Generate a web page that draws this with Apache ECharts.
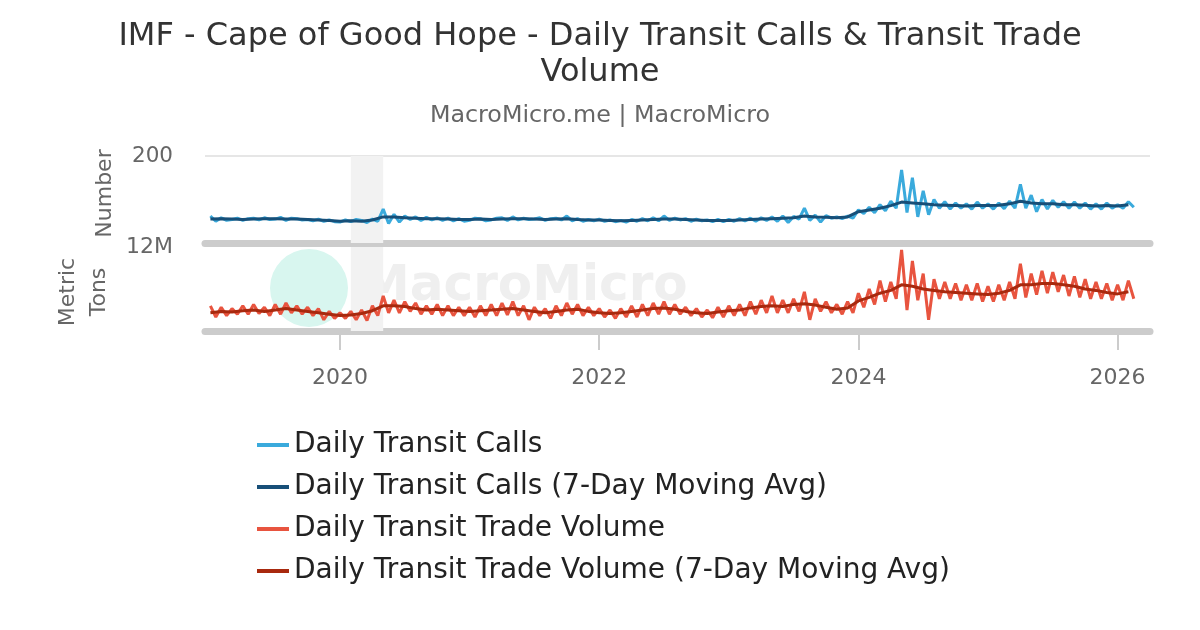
<!DOCTYPE html>
<html><head><meta charset="utf-8">
<script src="https://cdn.jsdelivr.net/npm/echarts@6/dist/echarts.min.js"></script>
<style>html,body{margin:0;padding:0;background:#fff}#c{width:1200px;height:630px}</style>
</head><body><div id="c"></div>
<script>
// Semi-monthly readings (1st & 16th of each month), Jan 2019 - Feb 2026
const callsRaw = [
62,50,58,52,54,57,52,56,57,53,58,54,55,59,52,57,56,53,54,51,55,50,53,49,
48,53,49,54,52,47,55,50,78,45,66,48,62,54,60,52,59,53,58,52,57,51,56,50,
52,57,56,51,53,57,58,52,60,53,57,54,55,58,52,56,57,53,62,51,56,50,54,51,
55,50,53,49,52,48,54,50,56,51,58,51,62,52,57,53,56,50,55,51,53,49,54,49,
54,50,56,51,57,50,58,52,60,50,62,47,61,55,80,52,64,48,63,57,60,56,62,57,
76,68,82,70,88,74,96,80,168,70,150,60,120,65,100,80,95,78,92,80,90,78,94,80,
90,78,92,79,96,80,135,80,110,72,100,78,98,82,95,80,94,80,92,78,90,78,92,80,
88,80,95,82];
const volRaw = [
3.6,2.0,3.4,2.2,3.2,2.4,3.6,2.4,3.8,2.5,3.4,2.2,3.8,2.4,4.0,2.6,3.6,2.4,3.4,2.2,3.2,1.6,2.8,1.8,
2.6,1.8,2.8,1.6,3.0,1.5,3.6,2.2,5.0,2.6,4.4,2.6,4.2,2.8,4.0,2.4,3.6,2.4,3.8,2.2,3.6,2.2,3.4,2.2,
3.4,2.0,3.6,2.2,3.8,2.2,4.0,2.3,4.2,2.2,3.6,1.6,3.4,2.2,3.2,1.8,3.6,2.2,4.0,2.4,3.8,2.2,3.4,2.2,
3.2,2.0,3.0,1.8,3.2,2.0,3.6,2.0,3.8,2.2,4.0,2.4,4.2,2.4,3.8,2.4,3.4,2.2,3.2,2.0,3.0,1.9,3.4,2.0,
3.6,2.2,3.8,2.2,4.2,2.4,4.4,2.6,5.0,2.6,4.4,2.6,4.6,2.8,5.6,1.6,4.6,2.8,4.2,2.6,3.8,2.4,4.2,2.6,
5.4,3.4,6.0,3.8,7.2,4.2,7.0,4.6,11.6,3.0,10.0,4.4,8.2,1.6,7.4,4.6,7.0,4.6,6.8,4.4,6.6,4.4,6.8,4.2,
6.4,4.2,6.6,4.4,7.0,4.6,9.6,4.8,8.2,5.2,8.6,5.4,8.4,5.6,8.0,5.0,7.8,4.8,7.4,4.6,7.0,4.6,6.8,4.4,
6.6,4.4,7.2,4.6];
// Monthly readings of the 7-day moving averages
const callsMA = [
55,56,55,54,55,56,56,55,55,54,53,52,
50,51,50,53,60,60,58,57,56,56,55,54,
54,55,54,55,56,56,55,54,55,56,54,53,
53,52,51,52,53,54,55,55,54,53,52,52,
52,53,54,55,56,57,58,62,60,59,58,60,
72,76,80,86,94,92,90,88,87,86,85,86,
86,87,90,96,92,90,90,88,88,87,85,86,
85,88];
const volMA = [
2.6,2.8,2.7,2.9,3.0,2.8,3.0,3.2,3.0,2.8,2.6,2.4,
2.2,2.3,2.5,2.9,3.6,3.6,3.5,3.2,3.0,3.1,3.0,2.9,
2.8,2.9,3.0,3.1,3.2,3.0,2.8,2.6,2.8,3.0,3.1,2.8,
2.6,2.5,2.6,2.8,3.0,3.2,3.3,3.1,2.8,2.6,2.5,2.7,
2.9,3.0,3.3,3.5,3.6,3.5,3.8,3.9,3.7,3.4,3.1,3.3,
4.3,4.8,5.4,5.8,6.6,6.4,6.0,5.8,5.6,5.5,5.4,5.3,
5.2,5.4,5.8,6.6,6.6,6.8,6.8,6.6,6.4,6.0,5.8,5.5,
5.3,5.6];
const shade = ['2020-02-01','2020-05-01'];
const xTickLabels = ['2020','2022','2024','2026'];
const yTicksTop = ['200'];
const yTicksBottom = ['12M'];

function pad(n){return n<10?'0'+n:''+n;}
const halfDates=[];
for(let y=2019;y<=2026;y++){for(let m=1;m<=12;m++){
  if(y===2026&&m>2)break;
  halfDates.push(y+'-'+pad(m)+'-01', y+'-'+pad(m)+'-16');
}}
const lead=['2018-12-16'], tail=['2026-03-01','2026-03-16','2026-04-01'];
const cats = lead.concat(halfDates, tail);
const padSeries = v => [null].concat(v, [null,null,null]);
const maSeries = v => [null].concat(...v.map(x=>[x,null]), [null,null,null]);
const tickSet = new Set(xTickLabels.map(y=>y+'-01-01'));

const chart = echarts.init(document.getElementById('c'));
const font = 'DejaVu Sans';
const xCommon = {type:'category', data:cats, boundaryGap:false, splitLine:{show:false}};
const ma = {silent:true, itemStyle:{color:'#f2f2f2'}, data:[[{xAxis:shade[0]},{xAxis:shade[1]}]]};
chart.setOption({
  textStyle:{fontFamily:font},
  title:[{text:'IMF - Cape of Good Hope - Daily Transit Calls & Transit Trade\nVolume', left:'center', top:14,
    textStyle:{fontSize:32, fontWeight:'normal', color:'#333', lineHeight:36, fontFamily:font},
    subtext:'MacroMicro.me | MacroMicro', subtextStyle:{fontSize:23.8, color:'#666', fontFamily:font}, itemGap:13}],
  graphic:[
    {type:'circle', shape:{cx:309, cy:288, r:39}, style:{fill:'#d8f6ef'}, z:0, silent:true},
    {type:'text', left:360, top:262, style:{text:'MacroMicro', fontSize:50, fontWeight:'bold', fill:'#efefef', fontFamily:font}, z:0, silent:true}
  ],
  grid:[{left:205,right:50,top:156,height:87},{left:205,right:50,top:247,height:84}],
  xAxis:[
    Object.assign({gridIndex:0, axisLabel:{show:false}, axisTick:{show:false},
      axisLine:{lineStyle:{color:'#cccccc', width:7}}}, xCommon),
    Object.assign({gridIndex:1, axisLine:{lineStyle:{color:'#cccccc', width:7}},
      axisTick:{length:19, lineStyle:{color:'#cccccc', width:2}, interval:(i,v)=>tickSet.has(v)},
      axisLabel:{fontSize:22, color:'#666', margin:36, interval:(i,v)=>tickSet.has(v),
        formatter:v=>v.slice(0,4)}
      }, xCommon)
  ],
  yAxis:[
    {gridIndex:0, min:0, max:200, interval:200, name:'Number', nameLocation:'middle', nameGap:89, nameRotate:90,
      nameTextStyle:{fontSize:22, color:'#666', padding:[0,0,0,12]},
      axisLabel:{fontSize:21.5, color:'#666', margin:32, formatter:v=>v===200?yTicksTop[0]:''},
      splitLine:{lineStyle:{color:'#e6e6e6', width:2}}, axisLine:{show:false}, axisTick:{show:false}},
    {gridIndex:1, min:0, max:12, interval:12, name:'Metric\nTons', nameLocation:'middle', nameGap:81, nameRotate:90,
      nameTextStyle:{fontSize:22, color:'#666', lineHeight:31, padding:[0,6,0,0]},
      axisLabel:{fontSize:22, color:'#666', margin:32, formatter:v=>v===12?yTicksBottom[0]:''},
      splitLine:{show:false}, axisLine:{show:false}, axisTick:{show:false}}
  ],
  legend:{orient:'vertical', left:252, top:426, itemGap:14, icon:'rect', itemWidth:32, itemHeight:4,
    textStyle:{fontSize:28, color:'#222'},
    data:['Daily Transit Calls','Daily Transit Calls (7-Day Moving Avg)','Daily Transit Trade Volume','Daily Transit Trade Volume (7-Day Moving Avg)']},
  series:[
    {name:'Daily Transit Calls', type:'line', xAxisIndex:0, yAxisIndex:0, data:padSeries(callsRaw),
      showSymbol:false, lineStyle:{width:3}, color:'#3aaadc', markArea:ma},
    {name:'Daily Transit Calls (7-Day Moving Avg)', type:'line', xAxisIndex:0, yAxisIndex:0, data:maSeries(callsMA),
      connectNulls:true, showSymbol:false, lineStyle:{width:3}, color:'#174f78'},
    {name:'Daily Transit Trade Volume', type:'line', xAxisIndex:1, yAxisIndex:1, data:padSeries(volRaw),
      showSymbol:false, lineStyle:{width:3}, color:'#e8543f', markArea:ma},
    {name:'Daily Transit Trade Volume (7-Day Moving Avg)', type:'line', xAxisIndex:1, yAxisIndex:1, data:maSeries(volMA),
      connectNulls:true, showSymbol:false, lineStyle:{width:3}, color:'#a8290e'}
  ]
});
</script></body></html>
